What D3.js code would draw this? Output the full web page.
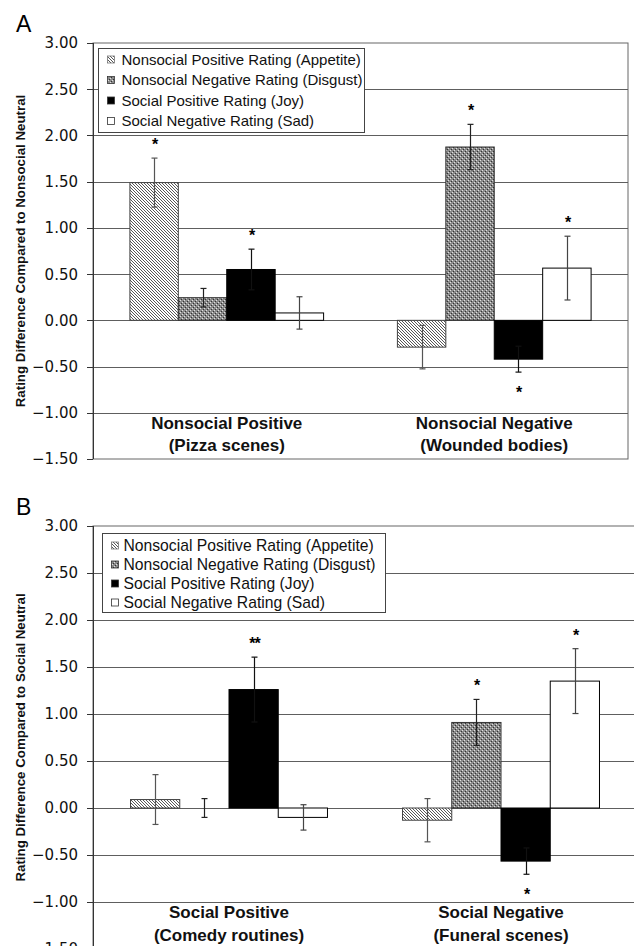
<!DOCTYPE html>
<html><head><meta charset="utf-8">
<script src="https://cdn.jsdelivr.net/npm/d3@7"></script>
<style>body{margin:0;background:#fff}svg{display:block}</style>
</head><body>
<svg id="c" width="634" height="946"></svg>
<script>
// ---------- data ----------
const series = ["Nonsocial Positive Rating (Appetite)", "Nonsocial Negative Rating (Disgust)", "Social Positive Rating (Joy)", "Social Negative Rating (Sad)"];
const yTicks = [-1.5, -1.0, -0.5, 0, 0.5, 1.0, 1.5, 2.0, 2.5, 3.0];

const catsA = [["Nonsocial Positive", "(Pizza scenes)"], ["Nonsocial Negative", "(Wounded bodies)"]];
const appetiteA = [1.49, -0.29];
const disgustA  = [0.245, 1.875];
const joyA      = [0.55, -0.42];
const sadA      = [0.08, 0.565];
const appetiteErrA = [0.265, 0.235];
const disgustErrA  = [0.10, 0.245];
const joyErrA      = [0.22, 0.14];
const sadErrA      = [0.175, 0.345];
const appetiteSigA = ["*", ""];
const disgustSigA  = ["", "*"];
const joySigA      = ["*", "*"];
const sadSigA      = ["", "*"];

const catsB = [["Social Positive", "(Comedy routines)"], ["Social Negative", "(Funeral scenes)"]];
const appetiteB = [0.09, -0.13];
const disgustB  = [0.0, 0.91];
const joyB      = [1.26, -0.565];
const sadB      = [-0.10, 1.35];
const appetiteErrB = [0.265, 0.23];
const disgustErrB  = [0.10, 0.245];
const joyErrB      = [0.345, 0.14];
const sadErrB      = [0.135, 0.345];
const appetiteSigB = ["", ""];
const disgustSigB  = ["", "*"];
const joySigB      = ["**", "*"];
const sadSigB      = ["", "*"];

// ---------- drawing ----------
const svg = d3.select("#c");
const defs = svg.append("defs");
const pA = defs.append("pattern").attr("id","hatch").attr("patternUnits","userSpaceOnUse").attr("width",3).attr("height",3);
pA.append("rect").attr("width",3).attr("height",3).attr("fill","#fff");
pA.append("path").attr("d","M-1,-1L4,4M-1,2L1,4M2,-1L4,1").attr("stroke","#444").attr("stroke-width",0.9);
const pB = defs.append("pattern").attr("id","dots").attr("patternUnits","userSpaceOnUse").attr("width",4).attr("height",4);
pB.append("rect").attr("width",4).attr("height",4).attr("fill","#8a8a8a");
pB.append("rect").attr("x",0).attr("y",0).attr("width",1).attr("height",1).attr("fill","#e0e0e0");
pB.append("rect").attr("x",2).attr("y",2).attr("width",1).attr("height",1).attr("fill","#e0e0e0");
pB.append("rect").attr("x",1).attr("y",3).attr("width",1).attr("height",1).attr("fill","#333");
pB.append("rect").attr("x",3).attr("y",1).attr("width",1).attr("height",1).attr("fill","#333");

const fills = ["url(#hatch)", "url(#dots)", "#000", "#fff"];
const strokes = ["#444", "#333", "#000", "#000"];
const errColors = ["#555", "#222", "#111", "#444"];

function panel(cfg) {
  const g = svg.append("g");
  const y = d3.scaleLinear().domain([-1.5, 3]).range([cfg.top + cfg.h, cfg.top]);
  const x0 = d3.scaleBand().domain(cfg.cats.map((c,i)=>i)).range([cfg.left, cfg.right]);
  const x1 = d3.scaleBand().domain(series.map((s,i)=>i)).range([0, x0.bandwidth()]).paddingInner(0).paddingOuter(0.762);

  // frame
  g.append("rect").attr("x", cfg.left).attr("y", cfg.top).attr("width", cfg.right - cfg.left).attr("height", cfg.h)
    .attr("fill", "#fff").attr("stroke", "#666").attr("stroke-width", 1);
  // gridlines
  g.selectAll(".grid").data(yTicks.filter(t => t > -1.5 && t < 3)).join("line")
    .attr("x1", cfg.left).attr("x2", cfg.right)
    .attr("y1", d => Math.round(y(d)) + 0.5).attr("y2", d => Math.round(y(d)) + 0.5)
    .attr("stroke", "#5e5e5e").attr("stroke-width", 1);

  // bars
  const vals = cfg.values, errs = cfg.errs, sigs = cfg.sigs;
  series.forEach((s, si) => {
    cfg.cats.forEach((c, ci) => {
      const v = vals[si][ci];
      const bx = x0(ci) + x1(si);
      const bw = x1.bandwidth();
      const y0 = y(0), yv = y(v);
      if (Math.abs(v) > 0.001) {
        g.append("rect").attr("x", bx).attr("y", Math.min(y0, yv)).attr("width", bw).attr("height", Math.abs(yv - y0))
          .attr("fill", fills[si]).attr("stroke", strokes[si]).attr("stroke-width", 1);
      }
      const cx = Math.round(bx + bw / 2) + 0.5;
      const e = errs[si][ci];
      const yt = y(v + e), yb = y(v - e);
      g.append("line").attr("x1", cx).attr("x2", cx).attr("y1", yt).attr("y2", yb).attr("stroke", errColors[si]).attr("stroke-width", 1.2);
      [yt, yb].forEach(yy => g.append("line").attr("x1", cx - 3).attr("x2", cx + 3).attr("y1", yy).attr("y2", yy).attr("stroke", errColors[si]).attr("stroke-width", 1.2));
      const sig = sigs[si][ci];
      if (sig) {
        const cy = v >= 0 ? yt - 17 : yb + 17;
        g.append("text").attr("x", cx).attr("y", cy + 9).attr("text-anchor", "middle")
          .attr("font-family", "Liberation Sans, Arial, sans-serif").attr("font-weight", "bold").attr("font-size", 16)
          .attr("letter-spacing", -1).text(sig);
      }
    });
  });

  // axis line and ticks
  g.append("line").attr("x1", cfg.left + 0.5).attr("x2", cfg.left + 0.5).attr("y1", cfg.top).attr("y2", cfg.top + cfg.h).attr("stroke", "#333");
  g.selectAll(".tk").data(yTicks).join("line")
    .attr("x1", cfg.left - 6).attr("x2", cfg.left).attr("y1", d => Math.round(y(d)) + 0.5).attr("y2", d => Math.round(y(d)) + 0.5)
    .attr("stroke", "#333");
  g.selectAll(".tl").data(yTicks).join("text")
    .attr("x", cfg.left - 15).attr("y", d => y(d)).attr("dy", "0.36em").attr("text-anchor", "end")
    .attr("font-family", "DejaVu Sans, sans-serif").attr("font-size", 15).attr("fill", "#111")
    .text(d3.format(".2f"));

  // category labels
  cfg.cats.forEach((lines, ci) => {
    const cx = x0(ci) + x0.bandwidth() / 2;
    lines.forEach((ln, li) => {
      g.append("text").attr("x", cx).attr("y", y(-1) + 16 + li * 22.5).attr("text-anchor", "middle")
        .attr("font-family", "Liberation Sans, Arial, sans-serif").attr("font-weight", "bold").attr("font-size", 17).attr("fill", "#111")
        .text(ln);
    });
  });

  // y label
  g.append("text").attr("transform", `translate(25,${cfg.top + cfg.h / 2}) rotate(-90)`).attr("text-anchor", "middle")
    .attr("font-family", "Liberation Sans, Arial, sans-serif").attr("font-weight", "bold").attr("font-size", 13.3).attr("fill", "#111")
    .text(cfg.ylabel);

  // panel letter
  g.append("text").attr("x", 16).attr("y", cfg.top - 11).attr("font-family", "Liberation Sans, Arial, sans-serif")
    .attr("font-size", 23).attr("fill", "#000").text(cfg.letter);

  // legend
  const L = cfg.legend;
  g.append("rect").attr("x", L.x + 0.5).attr("y", L.y + 0.5).attr("width", L.w).attr("height", L.h).attr("fill", "#fff").attr("stroke", "#444");
  series.forEach((s, si) => {
    const ry = L.y + L.first + si * L.step;
    g.append("rect").attr("x", L.x + 9.5).attr("y", ry - 3.5).attr("width", 7).attr("height", 7)
      .attr("fill", fills[si]).attr("stroke", si === 0 ? "#777" : "#333").attr("stroke-width", 0.8);
    g.append("text").attr("x", L.tx).attr("y", ry).attr("dy", "0.36em")
      .attr("font-family", "Liberation Sans, Arial, sans-serif").attr("font-size", L.fs).attr("fill", "#111").text(s);
  });
}

panel({
  letter: "A", top: 43, h: 416, left: 93, right: 628, cats: catsA,
  values: [appetiteA, disgustA, joyA, sadA], errs: [appetiteErrA, disgustErrA, joyErrA, sadErrA], sigs: [appetiteSigA, disgustSigA, joySigA, sadSigA],
  ylabel: "Rating Difference Compared to Nonsocial Neutral",
  legend: {x: 98, y: 48, w: 266, h: 84, first: 11.5, step: 20.5, tx: 121.5, fs: 15}
});
panel({
  letter: "B", top: 526, h: 423, left: 93, right: 637, cats: catsB,
  values: [appetiteB, disgustB, joyB, sadB], errs: [appetiteErrB, disgustErrB, joyErrB, sadErrB], sigs: [appetiteSigB, disgustSigB, joySigB, sadSigB],
  ylabel: "Rating Difference Compared to Social Neutral",
  legend: {x: 102, y: 533, w: 283, h: 79, first: 12.5, step: 19, tx: 123.5, fs: 15.7}
});
</script>
</body></html>
